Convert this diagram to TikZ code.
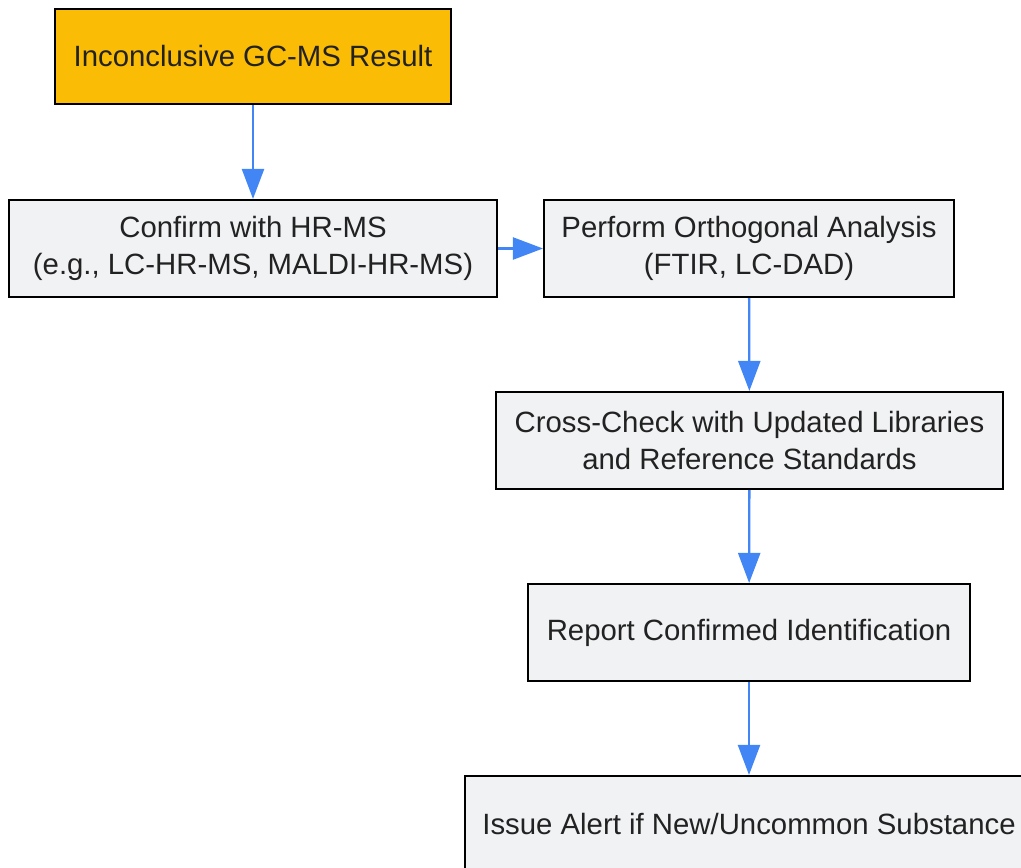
\documentclass[tikz,border=0pt]{standalone}
\usepackage{fontspec}
\setmainfont{Liberation Sans}
\usetikzlibrary{arrows.meta}

\definecolor{startfill}{HTML}{FBBC05}
\definecolor{stepfill}{HTML}{F1F2F4}
\definecolor{flowblue}{HTML}{4285F4}
\definecolor{inktext}{HTML}{222222}

\begin{document}
\begin{tikzpicture}[x=0.02cm, y=-0.02cm,
    box/.style={draw=black, line width=1.2pt, fill=stepfill, text=inktext,
        align=center, inner sep=0pt, font=\fontsize{16.7}{21}\selectfont},
    flow/.style={draw=flowblue, line width=1.3pt,
        -{Triangle[length=0.6cm, width=0.44cm]}}]
    \path[use as bounding box] (0,0) rectangle (1021,868);

    % boxes
    \node[box, fill=startfill, minimum width=7.92cm, minimum height=1.9cm]
        (result) at (253,56.5) {Inconclusive GC-MS Result};
    \node[box, minimum width=9.76cm, minimum height=1.94cm]
        (hrms) at (253,248.5) {Confirm with HR-MS\\(e.g., LC-HR-MS, MALDI-HR-MS)};
    \node[box, minimum width=8.2cm, minimum height=1.94cm]
        (ortho) at (749,248.5) {Perform Orthogonal Analysis\\(FTIR, LC-DAD)};
    \node[box, minimum width=10.14cm, minimum height=1.94cm]
        (check) at (749.5,440.5) {Cross-Check with Updated Libraries\\and Reference Standards};
    \node[box, minimum width=8.84cm, minimum height=1.94cm]
        (report) at (749,632.5) {Report Confirmed Identification};
    \node[box, minimum width=11.36cm, minimum height=1.94cm]
        (alert) at (749,824.5) {Issue Alert if New/Uncommon Substance};

    % connectors
    \draw[flow] (result) -- (hrms);
    \draw[flow] (hrms) -- (ortho);
    \draw[flow] (ortho) -- (check);
    \draw[flow] (check) -- (report);
    \draw[flow] (report.south) -- (report.south |- alert.north);
\end{tikzpicture}
\end{document}
